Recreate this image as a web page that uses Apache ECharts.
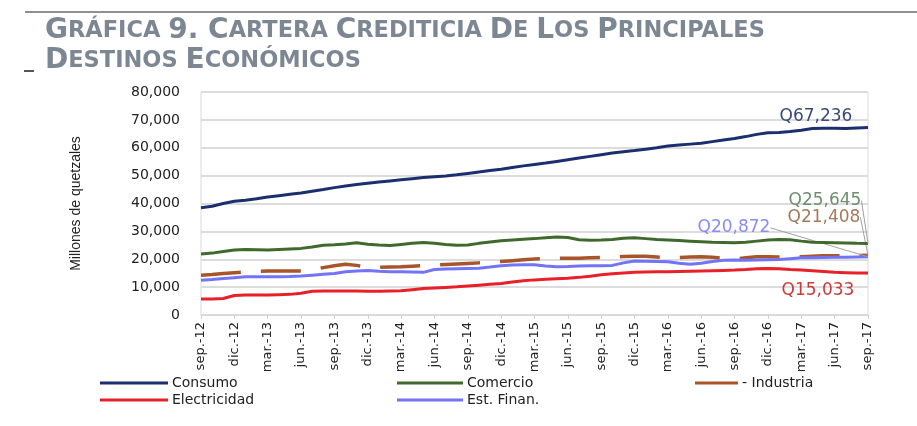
<!DOCTYPE html>
<html>
<head>
<meta charset="utf-8">
<script src="https://cdn.jsdelivr.net/npm/echarts@6/dist/echarts.min.js"></script>
<style>
  html, body { margin: 0; padding: 0; background: #fff; }
  #chart { width: 917px; height: 426px; }
</style>
</head>
<body>
<div id="chart"></div>
<script>
// meses sep-12 .. sep-17 (mensual)
var mesesNombre = ["ene.", "feb.", "mar.", "abr.", "may.", "jun.", "jul.", "ago.", "sep.", "oct.", "nov.", "dic."];
var meses = [];
for (var i = 0; i < 61; i++) {
  var m = (8 + i) % 12;
  var y = 12 + Math.floor((8 + i) / 12);
  meses.push(mesesNombre[m] + "-" + y);
}

var yTicks = [0, 10000, 20000, 30000, 40000, 50000, 60000, 70000, 80000];

var consumo = [38500, 39000, 40000, 40800, 41200, 41700, 42300, 42800, 43300, 43800,
  44400, 45000, 45700, 46300, 46800, 47300, 47700, 48100, 48500, 48900,
  49300, 49600, 49900, 50300, 50800, 51300, 51800, 52300, 52900, 53500,
  54000, 54500, 55100, 55700, 56300, 56900, 57500, 58100, 58600, 59000,
  59500, 60000, 60600, 61000, 61300, 61600, 62200, 62800, 63300, 64000,
  64800, 65400, 65500, 65800, 66300, 66900, 67000, 67000, 66900, 67100, 67236];

var comercio = [21900, 22200, 22800, 23300, 23500, 23400, 23300, 23500, 23700, 23900,
  24400, 25000, 25200, 25500, 25900, 25400, 25100, 24900, 25300, 25700,
  26000, 25700, 25300, 25000, 25100, 25700, 26200, 26600, 26900, 27200,
  27400, 27700, 28000, 27800, 27000, 26800, 26900, 27100, 27500, 27700,
  27400, 27100, 26900, 26700, 26500, 26300, 26100, 26000, 25900, 26100,
  26500, 26900, 27100, 27000, 26500, 26100, 26000, 25900, 25800, 25700, 25645];

var industria = [14300, 14500, 14900, 15200, 15400, 15600, 15800, 15800, 15800, 15800,
  16300, 17000, 17700, 18200, 17800, 17200, 17100, 17200, 17300, 17500,
  17700, 17900, 18100, 18300, 18500, 18700, 18900, 19200, 19500, 19800,
  20100, 20200, 20300, 20400, 20400, 20500, 20600, 20800, 21000, 21100,
  21100, 20800, 20500, 20600, 20800, 20900, 20700, 20300, 20100, 20500,
  20900, 20900, 20800, 20900, 20900, 21100, 21300, 21300, 21200, 21300, 21408];

var electricidad = [5700, 5700, 5900, 7000, 7200, 7200, 7200, 7300, 7400, 7800,
  8500, 8600, 8600, 8600, 8600, 8500, 8500, 8600, 8700, 9100,
  9500, 9700, 9900, 10100, 10400, 10700, 11000, 11300, 11800, 12300,
  12600, 12800, 13000, 13200, 13500, 13900, 14400, 14800, 15100, 15300,
  15400, 15500, 15500, 15600, 15700, 15800, 15900, 16000, 16100, 16300,
  16600, 16700, 16600, 16300, 16100, 15900, 15600, 15300, 15200, 15100, 15033];

var estFinan = [12500, 12700, 13100, 13400, 13700, 13700, 13700, 13700, 13800, 14000,
  14300, 14600, 14900, 15500, 15800, 16000, 15700, 15500, 15500, 15400,
  15300, 16300, 16500, 16600, 16700, 16800, 17200, 17700, 17900, 18000,
  18000, 17600, 17300, 17400, 17600, 17700, 17700, 17800, 18700, 19400,
  19300, 19200, 19100, 18600, 18200, 18600, 19200, 19600, 19700, 19600,
  19700, 19800, 19900, 20200, 20500, 20500, 20600, 20700, 20700, 20800, 20872];

function fmt(v) {
  return v.toString().replace(/\B(?=(\d{3})+(?!\d))/g, ",");
}

// solo el ultimo punto lleva simbolo y etiqueta
function conEtiqueta(arr, color, offset) {
  var d = arr.slice(0, arr.length - 1);
  var last = arr[arr.length - 1];
  d.push({
    value: last,
    symbol: "circle",
    symbolSize: 0.1,
    label: {
      show: true,
      position: "inside",
      offset: offset || [0, 0],
      formatter: "Q" + fmt(last),
      color: color,
      fontSize: 17,
      fontFamily: "DejaVu Sans"
    }
  });
  return d;
}

var myChart = echarts.init(document.getElementById("chart"));

var legendBase = {
  orient: "horizontal",
  icon: "rect",
  itemHeight: 3,
  itemGap: 0,
  textStyle: { fontSize: 14, color: "#222", fontFamily: "DejaVu Sans", padding: [0, 0, 0, -1] }
};

myChart.setOption({
  animation: false,
  title: {
    left: 40,
    top: 11,
    text: "{b|G}{s|RÁFICA }{b|9. C}{s|ARTERA }{b|C}{s|REDITICIA }{b|D}{s|E }{b|L}{s|OS }{b|P}{s|RINCIPALES}\n{b|D}{s|ESTINOS }{b|E}{s|CONÓMICOS}",
    textStyle: {
      color: "#7d8794",
      fontFamily: "DejaVu Sans",
      fontSize: 20,
      lineHeight: 30,
      rich: {
        b: { fontSize: 28, color: "#7d8794", fontFamily: "DejaVu Sans", fontWeight: "bold", lineHeight: 30 },
        s: { fontSize: 22.5, color: "#7d8794", fontFamily: "DejaVu Sans", fontWeight: "bold", lineHeight: 30 }
      }
    }
  },
  graphic: [
    { type: "rect", shape: { x: 25, y: 11, width: 892, height: 2 }, style: { fill: "#8f8f8f" } },
    { type: "rect", shape: { x: 24, y: 70, width: 10, height: 2 }, style: { fill: "#555" } }
  ],
  grid: {
    left: 201,
    right: 49,
    top: 92,
    bottom: 111,
    show: true,
    borderColor: "#d9d9d9",
    borderWidth: 1
  },
  legend: [
    Object.assign({}, legendBase, { left: 95, top: 371, itemWidth: 68, data: ["Consumo"] }),
    Object.assign({}, legendBase, { left: 392, top: 371, itemWidth: 66, data: ["Comercio"] }),
    Object.assign({}, legendBase, { left: 690, top: 371, itemWidth: 43, data: ["Industria"], formatter: "- {name}" }),
    Object.assign({}, legendBase, { left: 95, top: 388, itemWidth: 68, data: ["Electricidad"] }),
    Object.assign({}, legendBase, { left: 392, top: 388, itemWidth: 66, data: ["Est. Finan."] })
  ],
  xAxis: {
    type: "category",
    data: meses,
    boundaryGap: false,
    axisLine: { show: true, lineStyle: { color: "#d9d9d9" } },
    axisTick: { show: true, interval: 2, length: 4, lineStyle: { color: "#cfcfcf" } },
    axisLabel: {
      interval: 2,
      rotate: 90,
      fontSize: 13,
      color: "#222",
      fontFamily: "DejaVu Sans",
      margin: 7
    }
  },
  yAxis: {
    type: "value",
    name: "Millones de quetzales",
    nameLocation: "middle",
    nameGap: 118,
    nameRotate: 90,
    nameTextStyle: { fontSize: 14, color: "#222", fontFamily: "Liberation Sans" },
    min: yTicks[0],
    max: yTicks[yTicks.length - 1],
    interval: 10000,
    axisLine: { show: false },
    axisTick: { show: false },
    splitLine: { lineStyle: { color: "#dcdcdc", width: 2 } },
    axisLabel: {
      fontSize: 14,
      color: "#222",
      fontFamily: "DejaVu Sans",
      margin: 21,
      formatter: function (v) { return fmt(v); }
    }
  },
  series: [
    {
      name: "Consumo",
      type: "line",
      symbol: "none",
      showSymbol: true,
      data: conEtiqueta(consumo, "#3a4a78", [-52, -11]),
      lineStyle: { color: "#1b2f6e", width: 3 },
      itemStyle: { color: "#1b2f6e" },
      z: 5
    },
    {
      name: "Comercio",
      type: "line",
      symbol: "none",
      showSymbol: true,
      data: conEtiqueta(comercio, "#6e8f6e"),
      lineStyle: { color: "#3f6a2c", width: 3 },
      itemStyle: { color: "#3f6a2c" },
      labelLayout: { dx: -43, dy: -43 },
      labelLine: { show: true, lineStyle: { color: "#a0a0a0", width: 1 } },
      z: 4
    },
    {
      name: "Industria",
      type: "line",
      symbol: "none",
      showSymbol: true,
      data: conEtiqueta(industria, "#a47a5c"),
      lineStyle: { color: "#a8552a", width: 3.5, type: [40, 20] },
      itemStyle: { color: "#a8552a" },
      labelLayout: { dx: -44, dy: -38 },
      labelLine: { show: true, lineStyle: { color: "#a0a0a0", width: 1 } },
      z: 3
    },
    {
      name: "Electricidad",
      type: "line",
      symbol: "none",
      showSymbol: true,
      data: conEtiqueta(electricidad, "#c83c3c", [-50, 17]),
      lineStyle: { color: "#e8202a", width: 3 },
      itemStyle: { color: "#e8202a" },
      z: 3
    },
    {
      name: "Est. Finan.",
      type: "line",
      symbol: "none",
      showSymbol: true,
      data: conEtiqueta(estFinan, "#8b8cf0"),
      lineStyle: { color: "#7274f5", width: 3 },
      itemStyle: { color: "#7274f5" },
      labelLayout: { dx: -134, dy: -29 },
      labelLine: { show: true, lineStyle: { color: "#a0a0a0", width: 1 } },
      z: 3
    }
  ]
});
</script>
</body>
</html>
